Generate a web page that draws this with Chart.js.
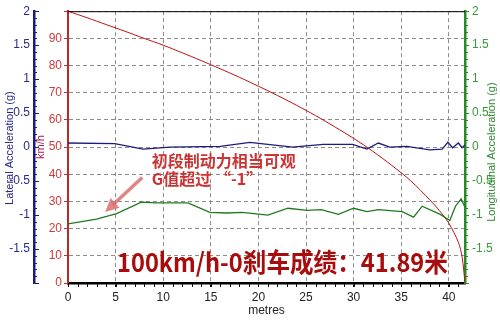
<!DOCTYPE html>
<html>
<head>
<meta charset="utf-8">
<script src="https://cdn.jsdelivr.net/npm/chart.js@4.4.1/dist/chart.umd.min.js"></script>
<style>
  html, body { margin: 0; padding: 0; background: #fff; }
</style>
</head>
<body>
<canvas id="brakeChart" width="500" height="321"></canvas>
<script>
// speed vs distance (km/h)
const speedDist = [0, 2, 4, 6, 8, 10, 12, 14, 16, 18, 20, 22, 24, 26, 28, 30, 32, 34, 36, 38, 39, 40, 41, 41.4, 41.7];
const speedKmh = [100, 97.6, 95.1, 92.6, 90.0, 87.5, 84.7, 81.8, 78.8, 75.7, 72.4, 69.0, 65.4, 61.6, 57.5, 53.2, 48.5, 43.3, 37.6, 30.6, 26.7, 22.0, 15.0, 9.5, 0];

// lateral acceleration (g)
const latDist = [0, 4.9, 7.9, 10.7, 16.0, 19.1, 23.6, 26.8, 29.9, 31.4, 32.6, 33.8, 35.6, 38.0, 39.3, 39.9, 40.4, 41.0, 41.4, 41.7];
const latG = [0.06, 0.05, -0.03, 0.0, 0.01, 0.07, 0.0, 0.04, 0.04, -0.03, 0.06, 0.0, 0.01, -0.04, -0.03, 0.07, -0.01, 0.06, -0.01, 0.03];

// longitudinal acceleration (g)
const lonDist = [0, 3.0, 5.1, 7.7, 9.3, 12.6, 14.9, 16.7, 18.3, 21.0, 23.1, 25.1, 26.6, 28.4, 30.0, 31.4, 32.6, 35.1, 36.3, 37.2, 39.1, 40.1, 40.7, 41.3, 41.7];
const lonG = [-1.13, -1.06, -0.98, -0.81, -0.82, -0.82, -0.96, -0.97, -0.96, -1.0, -0.9, -0.93, -0.92, -0.99, -0.9, -0.95, -0.92, -0.95, -1.03, -0.87, -0.99, -1.08, -0.87, -0.76, -0.89];

// tick values
const distTicks = [0, 5, 10, 15, 20, 25, 30, 35, 40];
const speedTicks = [0, 10, 20, 30, 40, 50, 60, 70, 80, 90, 100];
const gTicks = [-2, -1.5, -1, -0.5, 0, 0.5, 1, 1.5, 2];

const note1 = "初段制动力相当可观";
const note2 = "G值超过 “-1”";
const resultText = "100km/h-0刹车成绩：41.89米";

const tickFont = { family: "Liberation Sans", size: 12 };
const setTicks = (list) => (scale) => { scale.ticks = list.map((v) => ({ value: v })); };

const toPoints = (xs, ys) => xs.map((x, i) => ({ x: x, y: ys[i] }));

const decorations = {
  id: "decorations",
  afterDraw(chart) {
    const { ctx, chartArea, scales } = chart;
    const x = scales.x, lat = scales.yLat, lon = scales.yLon, spd = scales.ySpeed;
    ctx.save();

    // top frame line
    ctx.strokeStyle = "#000";
    ctx.lineWidth = 1;
    ctx.beginPath();
    ctx.moveTo(chartArea.left, chartArea.top + 0.5);
    ctx.lineTo(chartArea.right, chartArea.top + 0.5);
    ctx.stroke();

    // minor ticks on distance axis
    ctx.beginPath();
    for (let d = 0; d <= 41; d++) {
      const px = Math.round(x.getPixelForValue(d)) + 0.5;
      ctx.moveTo(px, chartArea.bottom);
      ctx.lineTo(px, chartArea.bottom + 4);
    }
    ctx.stroke();

    // ticks on lateral axis (pointing inwards)
    ctx.strokeStyle = "#1c1c80";
    ctx.beginPath();
    for (let i = -20; i <= 20; i++) {
      const py = Math.round(lat.getPixelForValue(i / 10)) + 0.5;
      const len = i % 5 === 0 ? 5 : 3;
      ctx.moveTo(lat.right, py);
      ctx.lineTo(lat.right + len, py);
    }
    ctx.stroke();

    // minor ticks on longitudinal axis
    ctx.strokeStyle = "#2a8a2a";
    ctx.beginPath();
    for (let i = -20; i <= 20; i++) {
      const py = Math.round(lon.getPixelForValue(i / 10)) + 0.5;
      ctx.moveTo(lon.left, py);
      ctx.lineTo(lon.left + 3, py);
    }
    ctx.stroke();

    // axis titles
    const midY = (chartArea.top + chartArea.bottom) / 2;
    ctx.textAlign = "center";
    ctx.textBaseline = "middle";
    ctx.font = "11px 'Liberation Sans'";

    ctx.save();
    ctx.translate(10, midY + 1);
    ctx.rotate(-Math.PI / 2);
    ctx.fillStyle = "#26268a";
    ctx.fillText("Lateral Acceleration (g)", 0, 0);
    ctx.restore();

    ctx.save();
    ctx.translate(lat.right + 7, midY);
    ctx.rotate(-Math.PI / 2);
    ctx.fillStyle = "#a3204a";
    ctx.fillText("km/h", 0, 0);
    ctx.restore();

    ctx.save();
    ctx.translate(492, midY + 5);
    ctx.rotate(-Math.PI / 2);
    ctx.fillStyle = "#2f8a2f";
    ctx.fillText("Longitudinal Acceleration (g)", 0, 0);
    ctx.restore();

    ctx.fillStyle = "#222";
    ctx.font = "12px 'Liberation Sans'";
    ctx.fillText("metres", (chartArea.left + chartArea.right) / 2, 311);

    // annotation arrow
    const tx = x.getPixelForValue(7.8), ty = spd.getPixelForValue(38.8);
    const hx = x.getPixelForValue(3.9), hy = spd.getPixelForValue(26.1);
    const ang = Math.atan2(hy - ty, hx - tx);
    ctx.strokeStyle = "rgba(220, 110, 110, 0.85)";
    ctx.fillStyle = "rgba(220, 110, 110, 0.85)";
    ctx.lineWidth = 3.5;
    ctx.beginPath();
    ctx.moveTo(tx, ty);
    ctx.lineTo(hx - Math.cos(ang) * 10, hy - Math.sin(ang) * 10);
    ctx.stroke();
    ctx.beginPath();
    ctx.moveTo(hx, hy);
    ctx.lineTo(hx - Math.cos(ang - 0.45) * 15, hy - Math.sin(ang - 0.45) * 15);
    ctx.lineTo(hx - Math.cos(ang + 0.45) * 15, hy - Math.sin(ang + 0.45) * 15);
    ctx.closePath();
    ctx.fill();

    // annotation text
    ctx.textAlign = "left";
    ctx.textBaseline = "alphabetic";
    ctx.fillStyle = "#cc3333";
    ctx.font = "bold 16px 'Noto Sans CJK SC'";
    ctx.fillText(note1, x.getPixelForValue(8.8), spd.getPixelForValue(42.8));
    ctx.fillText(note2, x.getPixelForValue(8.8), spd.getPixelForValue(35.9));

    // result text
    ctx.fillStyle = "#a80c0c";
    ctx.font = "bold 26px 'Noto Sans CJK SC'";
    const left = x.getPixelForValue(5.15);
    const right = x.getPixelForValue(39.9);
    ctx.fillText(resultText, left, spd.getPixelForValue(4.2), right - left);

    ctx.restore();
  }
};

const ctx = document.getElementById("brakeChart").getContext("2d");
new Chart(ctx, {
  type: "line",
  data: {
    datasets: [
      {
        label: "Lateral Acceleration (g)",
        data: toPoints(latDist, latG),
        yAxisID: "yLat",
        borderColor: "#1c1c7c",
        borderWidth: 1.3,
        pointRadius: 0,
        tension: 0,
      },
      {
        label: "Longitudinal Acceleration (g)",
        data: toPoints(lonDist, lonG),
        yAxisID: "yLon",
        borderColor: "#1f7a1f",
        borderWidth: 1.3,
        pointRadius: 0,
        tension: 0,
      },
      {
        label: "km/h",
        data: toPoints(speedDist, speedKmh),
        yAxisID: "ySpeed",
        borderColor: "#c01010",
        borderWidth: 1,
        pointRadius: 0,
        tension: 0.3,
      },
    ],
  },
  options: {
    responsive: false,
    animation: false,
    devicePixelRatio: 1,
    layout: { padding: { top: 7, left: 0, right: 0, bottom: 0 } },
    plugins: {
      legend: { display: false },
      tooltip: { enabled: false },
    },
    scales: {
      x: {
        type: "linear",
        min: 0,
        max: 41.7,
        afterBuildTicks: setTicks(distTicks),
        afterFit: (s) => { s.height = 38; },
        ticks: { color: "#222", font: tickFont, padding: 3, maxRotation: 0, autoSkip: false },
        grid: { color: "#8c8c8c", lineWidth: 1, tickLength: 4, tickColor: "#000" },
        border: { color: "#000", width: 2.5, dash: [4, 3] },
      },
      yLat: {
        position: "left",
        weight: 1,
        min: -2,
        max: 2,
        afterBuildTicks: setTicks(gTicks),
        afterFit: (s) => { s.width = 34; },
        ticks: {
          color: "#2a2a8a",
          font: tickFont,
          padding: 4,
          callback: (v) => (v === -2 ? "" : String(v)),
        },
        grid: { display: false, drawTicks: false },
        border: { color: "#1c1c80", width: 2.5 },
      },
      ySpeed: {
        position: "left",
        weight: 0,
        min: 0,
        max: 100,
        afterBuildTicks: setTicks(speedTicks),
        afterFit: (s) => { s.width = 34; },
        ticks: {
          color: "#cc3b3b",
          font: tickFont,
          padding: 2,
          callback: (v) => (v === 100 ? "" : String(v)),
        },
        grid: { color: "#8c8c8c", lineWidth: 1, tickLength: 4, tickColor: "#c03030" },
        border: { color: "#c02828", width: 2, dash: [4, 3] },
      },
      yLon: {
        position: "right",
        min: -2,
        max: 2,
        afterBuildTicks: setTicks(gTicks),
        afterFit: (s) => { s.width = 35; },
        ticks: {
          color: "#3a9a3a",
          font: tickFont,
          padding: 3,
          callback: (v) => (v === -2 ? "" : String(v)),
        },
        grid: { drawOnChartArea: false, tickLength: 4, tickColor: "#2a8a2a" },
        border: { color: "#2a8a2a", width: 2.5 },
      },
    },
  },
  plugins: [decorations],
});
</script>
</body>
</html>
